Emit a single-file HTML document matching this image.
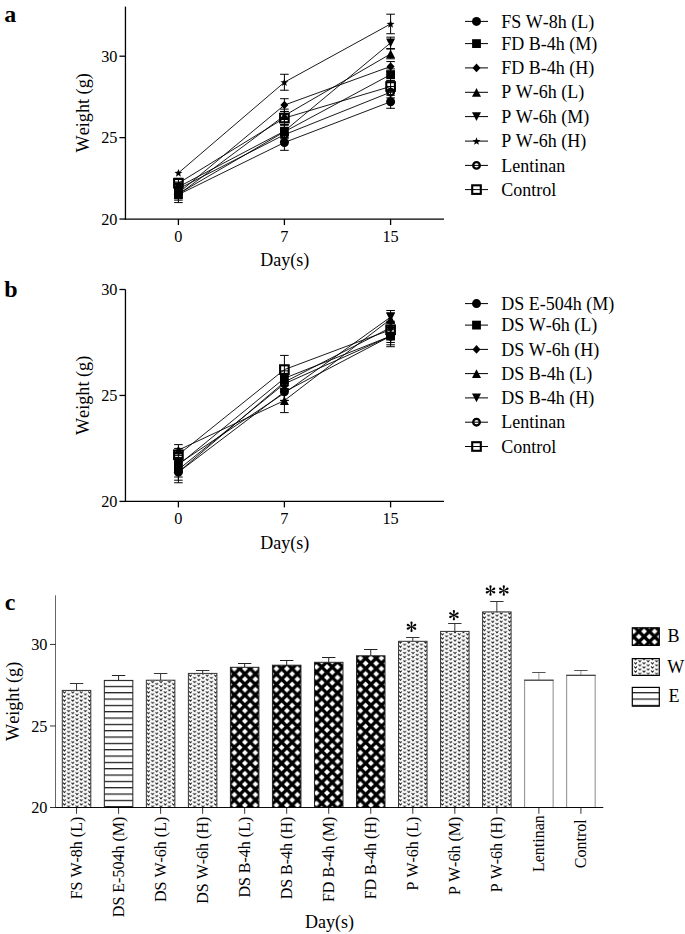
<!DOCTYPE html>
<html><head><meta charset="utf-8"><style>
html,body{margin:0;padding:0;background:#fff;}
svg{display:block;}
text{font-family:"Liberation Serif", serif;fill:#000;font-kerning:none;}
</style></head><body>
<svg width="685" height="934" viewBox="0 0 685 934">
<rect width="685" height="934" fill="#fff"/>
<defs>
<pattern id="pB" patternUnits="userSpaceOnUse" x="3.4" y="7.2" width="10.5" height="10.5">
<rect width="10.5" height="10.5" fill="#000"/>
<path d="M0 -2.9L2.9 0L0 2.9L-2.9 0Z M10.5 -2.9L13.4 0L10.5 2.9L7.6 0Z M0 7.6L2.9 10.5L0 13.4L-2.9 10.5Z M10.5 7.6L13.4 10.5L10.5 13.4L7.6 10.5Z M5.25 2.35L8.15 5.25L5.25 8.15L2.35 5.25Z" fill="#fff"/>
</pattern>
<pattern id="pB7" patternUnits="userSpaceOnUse" x="1.5" y="5.5" width="10.5" height="10.5">
<rect width="10.5" height="10.5" fill="#000"/>
<path d="M0 -2.9L2.9 0L0 2.9L-2.9 0Z M10.5 -2.9L13.4 0L10.5 2.9L7.6 0Z M0 7.6L2.9 10.5L0 13.4L-2.9 10.5Z M10.5 7.6L13.4 10.5L10.5 13.4L7.6 10.5Z M5.25 2.35L8.15 5.25L5.25 8.15L2.35 5.25Z" fill="#fff"/>
</pattern>
<pattern id="pBL" patternUnits="userSpaceOnUse" x="3.6" y="1.4" width="10.5" height="10.5">
<rect width="10.5" height="10.5" fill="#000"/>
<path d="M0 -2.9L2.9 0L0 2.9L-2.9 0Z M10.5 -2.9L13.4 0L10.5 2.9L7.6 0Z M0 7.6L2.9 10.5L0 13.4L-2.9 10.5Z M10.5 7.6L13.4 10.5L10.5 13.4L7.6 10.5Z M5.25 2.35L8.15 5.25L5.25 8.15L2.35 5.25Z" fill="#fff"/>
</pattern>
<pattern id="pW" patternUnits="userSpaceOnUse" x="1.4" y="1.3" width="8.4" height="4.15">
<rect width="8.4" height="4.15" fill="#fff"/>
<path d="M-1.4 -0.9L0 0.7L1.4 -0.9 M7.0 -0.9L8.4 0.7L9.8 -0.9 M-1.4 3.25L0 4.85L1.4 3.25 M7.0 3.25L8.4 4.85L9.8 3.25 M2.8 1.17L4.2 2.77L5.6 1.17" stroke="#111" stroke-width="0.9" fill="none"/>
</pattern>
<pattern id="pE" patternUnits="userSpaceOnUse" x="0" y="1.85" width="10" height="6.333">
<rect width="10" height="6.333" fill="#fff"/>
<rect y="0" width="10" height="1.2" fill="#111"/>
</pattern>
</defs>
<line x1="125.45" y1="6.6" x2="125.45" y2="219.69" stroke="#000" stroke-width="1.3"/>
<line x1="124.8" y1="219.04" x2="444" y2="219.04" stroke="#000" stroke-width="1.3"/>
<line x1="119.45" y1="219.04" x2="125.45" y2="219.04" stroke="#000" stroke-width="1.3"/>
<text x="117.45" y="224.64" text-anchor="end" font-size="16.3" font-weight="normal" >20</text>
<line x1="119.45" y1="137.62" x2="125.45" y2="137.62" stroke="#000" stroke-width="1.3"/>
<text x="117.45" y="143.22" text-anchor="end" font-size="16.3" font-weight="normal" >25</text>
<line x1="119.45" y1="56.2" x2="125.45" y2="56.2" stroke="#000" stroke-width="1.3"/>
<text x="117.45" y="61.8" text-anchor="end" font-size="16.3" font-weight="normal" >30</text>
<line x1="178.4" y1="219.04" x2="178.4" y2="225.04" stroke="#000" stroke-width="1.3"/>
<text x="178.4" y="241.84" text-anchor="middle" font-size="16.3" font-weight="normal" >0</text>
<line x1="284.4" y1="219.04" x2="284.4" y2="225.04" stroke="#000" stroke-width="1.3"/>
<text x="284.4" y="241.84" text-anchor="middle" font-size="16.3" font-weight="normal" >7</text>
<line x1="390.6" y1="219.04" x2="390.6" y2="225.04" stroke="#000" stroke-width="1.3"/>
<text x="390.6" y="241.84" text-anchor="middle" font-size="16.3" font-weight="normal" >15</text>
<text x="284.73" y="266.14" text-anchor="middle" font-size="18" font-weight="normal" >Day(s)</text>
<text transform="translate(88.9 112.82) rotate(-90)" text-anchor="middle" font-size="18.2">Weight (g)</text>
<text x="4.3" y="21.5" text-anchor="start" font-size="24" font-weight="bold" >a</text>
<polyline points="178.4,194.61 284.4,142.51 390.6,101.8" fill="none" stroke="#000" stroke-width="0.9"/>
<polyline points="178.4,193.8 284.4,131.76 390.6,74.6" fill="none" stroke="#000" stroke-width="0.9"/>
<polyline points="178.4,192.99 284.4,105.05 390.6,66.46" fill="none" stroke="#000" stroke-width="0.9"/>
<polyline points="178.4,194.61 284.4,115.64 390.6,53.92" fill="none" stroke="#000" stroke-width="0.9"/>
<polyline points="178.4,186.96 284.4,131.11 390.6,42.85" fill="none" stroke="#000" stroke-width="0.9"/>
<polyline points="178.4,172.96 284.4,82.25 390.6,23.96" fill="none" stroke="#000" stroke-width="0.9"/>
<polyline points="178.4,188.91 284.4,134.69 390.6,92.19" fill="none" stroke="#000" stroke-width="0.9"/>
<polyline points="178.4,183.22 284.4,118.08 390.6,86.49" fill="none" stroke="#000" stroke-width="0.9"/>
<path d="M178.4 189.08V200.15M174.1 189.08H182.7M174.1 200.15H182.7" stroke="#000" stroke-width="1" fill="none"/>
<path d="M284.4 134.69V150.32M280.1 134.69H288.7M280.1 150.32H288.7" stroke="#000" stroke-width="1" fill="none"/>
<path d="M390.6 95.28V108.31M386.3 95.28H394.9M386.3 108.31H394.9" stroke="#000" stroke-width="1" fill="none"/>
<path d="M178.4 188.91V198.68M174.1 188.91H182.7M174.1 198.68H182.7" stroke="#000" stroke-width="1" fill="none"/>
<path d="M284.4 125.24V138.27M280.1 125.24H288.7M280.1 138.27H288.7" stroke="#000" stroke-width="1" fill="none"/>
<path d="M390.6 68.9V80.3M386.3 68.9H394.9M386.3 80.3H394.9" stroke="#000" stroke-width="1" fill="none"/>
<path d="M178.4 188.1V197.87M174.1 188.1H182.7M174.1 197.87H182.7" stroke="#000" stroke-width="1" fill="none"/>
<path d="M284.4 98.7V111.4M280.1 98.7H288.7M280.1 111.4H288.7" stroke="#000" stroke-width="1" fill="none"/>
<path d="M390.6 61.57V71.34M386.3 61.57H394.9M386.3 71.34H394.9" stroke="#000" stroke-width="1" fill="none"/>
<path d="M178.4 186.63V202.59M174.1 186.63H182.7M174.1 202.59H182.7" stroke="#000" stroke-width="1" fill="none"/>
<path d="M284.4 109.12V122.15M280.1 109.12H288.7M280.1 122.15H288.7" stroke="#000" stroke-width="1" fill="none"/>
<path d="M390.6 49.04V58.81M386.3 49.04H394.9M386.3 58.81H394.9" stroke="#000" stroke-width="1" fill="none"/>
<path d="M178.4 182.08V191.85M174.1 182.08H182.7M174.1 191.85H182.7" stroke="#000" stroke-width="1" fill="none"/>
<path d="M284.4 124.59V137.62M280.1 124.59H288.7M280.1 137.62H288.7" stroke="#000" stroke-width="1" fill="none"/>
<path d="M390.6 37.15V48.55M386.3 37.15H394.9M386.3 48.55H394.9" stroke="#000" stroke-width="1" fill="none"/>
<path d="M284.4 74.28V90.23M280.1 74.28H288.7M280.1 90.23H288.7" stroke="#000" stroke-width="1" fill="none"/>
<path d="M390.6 14.19V33.73M386.3 14.19H394.9M386.3 33.73H394.9" stroke="#000" stroke-width="1" fill="none"/>
<path d="M178.4 184.03V193.8M174.1 184.03H182.7M174.1 193.8H182.7" stroke="#000" stroke-width="1" fill="none"/>
<path d="M284.4 128.18V141.2M280.1 128.18H288.7M280.1 141.2H288.7" stroke="#000" stroke-width="1" fill="none"/>
<path d="M390.6 86.49V97.89M386.3 86.49H394.9M386.3 97.89H394.9" stroke="#000" stroke-width="1" fill="none"/>
<path d="M178.4 178.33V188.1M174.1 178.33H182.7M174.1 188.1H182.7" stroke="#000" stroke-width="1" fill="none"/>
<path d="M284.4 111.57V124.59M280.1 111.57H288.7M280.1 124.59H288.7" stroke="#000" stroke-width="1" fill="none"/>
<path d="M390.6 80.79V92.19M386.3 80.79H394.9M386.3 92.19H394.9" stroke="#000" stroke-width="1" fill="none"/>
<circle cx="178.4" cy="194.61" r="4.5" fill="#000"/>
<circle cx="284.4" cy="142.51" r="4.5" fill="#000"/>
<circle cx="390.6" cy="101.8" r="4.5" fill="#000"/>
<rect x="174" y="189.4" width="8.8" height="8.8" fill="#000"/>
<rect x="280" y="127.36" width="8.8" height="8.8" fill="#000"/>
<rect x="386.2" y="70.2" width="8.8" height="8.8" fill="#000"/>
<path d="M178.4 188.69L182.4 192.99L178.4 197.29L174.4 192.99Z" fill="#000"/>
<path d="M284.4 100.75L288.4 105.05L284.4 109.35L280.4 105.05Z" fill="#000"/>
<path d="M390.6 62.16L394.6 66.46L390.6 70.76L386.6 66.46Z" fill="#000"/>
<path d="M178.4 190.21L182.9 199.01L173.9 199.01Z" fill="#000"/>
<path d="M284.4 111.24L288.9 120.04L279.9 120.04Z" fill="#000"/>
<path d="M390.6 49.52L395.1 58.32L386.1 58.32Z" fill="#000"/>
<path d="M178.4 191.36L182.9 182.56L173.9 182.56Z" fill="#000"/>
<path d="M284.4 135.51L288.9 126.71L279.9 126.71Z" fill="#000"/>
<path d="M390.6 47.25L395.1 38.45L386.1 38.45Z" fill="#000"/>
<path d="M178.4 169.06L179.43 171.84L182.39 171.96L180.06 173.8L180.87 176.65L178.4 175.01L175.93 176.65L176.74 173.8L174.41 171.96L177.37 171.84Z" fill="#000"/>
<path d="M284.4 78.35L285.43 81.14L288.39 81.26L286.06 83.1L286.87 85.95L284.4 84.3L281.93 85.95L282.74 83.1L280.41 81.26L283.37 81.14Z" fill="#000"/>
<path d="M390.6 20.06L391.63 22.84L394.59 22.96L392.26 24.8L393.07 27.66L390.6 26.01L388.13 27.66L388.94 24.8L386.61 22.96L389.57 22.84Z" fill="#000"/>
<circle cx="178.4" cy="188.91" r="3.3" fill="none" stroke="#000" stroke-width="2.3"/>
<circle cx="284.4" cy="134.69" r="3.3" fill="none" stroke="#000" stroke-width="2.3"/>
<circle cx="390.6" cy="92.19" r="3.3" fill="none" stroke="#000" stroke-width="2.3"/>
<rect x="174.1" y="178.92" width="8.6" height="8.6" fill="none" stroke="#000" stroke-width="2.1"/>
<rect x="280.1" y="113.78" width="8.6" height="8.6" fill="none" stroke="#000" stroke-width="2.1"/>
<rect x="386.3" y="82.19" width="8.6" height="8.6" fill="none" stroke="#000" stroke-width="2.1"/>
<line x1="465" y1="21.4" x2="488" y2="21.4" stroke="#000" stroke-width="1"/>
<circle cx="476.5" cy="21.4" r="4.5" fill="#000"/>
<text x="501.2" y="27.5" text-anchor="start" font-size="18" font-weight="normal" >FS W-8h (L)</text>
<line x1="465" y1="43.6" x2="488" y2="43.6" stroke="#000" stroke-width="1"/>
<rect x="472.1" y="39.2" width="8.8" height="8.8" fill="#000"/>
<text x="501.2" y="49.7" text-anchor="start" font-size="18" font-weight="normal" >FD B-4h (M)</text>
<line x1="465" y1="67.9" x2="488" y2="67.9" stroke="#000" stroke-width="1"/>
<path d="M476.5 63.6L480.5 67.9L476.5 72.2L472.5 67.9Z" fill="#000"/>
<text x="501.2" y="74" text-anchor="start" font-size="18" font-weight="normal" >FD B-4h (H)</text>
<line x1="465" y1="92.3" x2="488" y2="92.3" stroke="#000" stroke-width="1"/>
<path d="M476.5 87.9L481 96.7L472 96.7Z" fill="#000"/>
<text x="501.2" y="98.4" text-anchor="start" font-size="18" font-weight="normal" >P W-6h (L)</text>
<line x1="465" y1="116.6" x2="488" y2="116.6" stroke="#000" stroke-width="1"/>
<path d="M476.5 121L481 112.2L472 112.2Z" fill="#000"/>
<text x="501.2" y="122.7" text-anchor="start" font-size="18" font-weight="normal" >P W-6h (M)</text>
<line x1="465" y1="141.1" x2="488" y2="141.1" stroke="#000" stroke-width="1"/>
<path d="M476.5 137.2L477.53 139.98L480.49 140.1L478.16 141.94L478.97 144.8L476.5 143.15L474.03 144.8L474.84 141.94L472.51 140.1L475.47 139.98Z" fill="#000"/>
<text x="501.2" y="147.2" text-anchor="start" font-size="18" font-weight="normal" >P W-6h (H)</text>
<line x1="465" y1="165.4" x2="488" y2="165.4" stroke="#000" stroke-width="1"/>
<circle cx="476.5" cy="165.4" r="3.3" fill="none" stroke="#000" stroke-width="2.3"/>
<text x="501.2" y="171.5" text-anchor="start" font-size="18" font-weight="normal" >Lentinan</text>
<line x1="465" y1="189.6" x2="488" y2="189.6" stroke="#000" stroke-width="1"/>
<rect x="472.2" y="185.3" width="8.6" height="8.6" fill="none" stroke="#000" stroke-width="2.1"/>
<text x="501.2" y="195.7" text-anchor="start" font-size="18" font-weight="normal" >Control</text>
<line x1="125.45" y1="289.5" x2="125.45" y2="502.05" stroke="#000" stroke-width="1.3"/>
<line x1="124.8" y1="501.4" x2="444" y2="501.4" stroke="#000" stroke-width="1.3"/>
<line x1="119.45" y1="501.4" x2="125.45" y2="501.4" stroke="#000" stroke-width="1.3"/>
<text x="117.45" y="507" text-anchor="end" font-size="16.3" font-weight="normal" >20</text>
<line x1="119.45" y1="395.45" x2="125.45" y2="395.45" stroke="#000" stroke-width="1.3"/>
<text x="117.45" y="401.05" text-anchor="end" font-size="16.3" font-weight="normal" >25</text>
<line x1="119.45" y1="289.5" x2="125.45" y2="289.5" stroke="#000" stroke-width="1.3"/>
<text x="117.45" y="295.1" text-anchor="end" font-size="16.3" font-weight="normal" >30</text>
<line x1="178.4" y1="501.4" x2="178.4" y2="507.4" stroke="#000" stroke-width="1.3"/>
<text x="178.4" y="524.2" text-anchor="middle" font-size="16.3" font-weight="normal" >0</text>
<line x1="284.4" y1="501.4" x2="284.4" y2="507.4" stroke="#000" stroke-width="1.3"/>
<text x="284.4" y="524.2" text-anchor="middle" font-size="16.3" font-weight="normal" >7</text>
<line x1="390.6" y1="501.4" x2="390.6" y2="507.4" stroke="#000" stroke-width="1.3"/>
<text x="390.6" y="524.2" text-anchor="middle" font-size="16.3" font-weight="normal" >15</text>
<text x="284.73" y="548.5" text-anchor="middle" font-size="18" font-weight="normal" >Day(s)</text>
<text transform="translate(88.9 395.45) rotate(-90)" text-anchor="middle" font-size="18.2">Weight (g)</text>
<text x="4.3" y="296.7" text-anchor="start" font-size="24" font-weight="bold" >b</text>
<polyline points="178.4,472.16 284.4,391.85 390.6,336.12" fill="none" stroke="#000" stroke-width="0.9"/>
<polyline points="178.4,464.95 284.4,378.29 390.6,336.12" fill="none" stroke="#000" stroke-width="0.9"/>
<polyline points="178.4,472.16 284.4,382.1 390.6,327.64" fill="none" stroke="#000" stroke-width="0.9"/>
<polyline points="178.4,450.12 284.4,400.54 390.6,319.17" fill="none" stroke="#000" stroke-width="0.9"/>
<polyline points="178.4,463.89 284.4,393.12 390.6,317.05" fill="none" stroke="#000" stroke-width="0.9"/>
<polyline points="178.4,469.61 284.4,383.8 390.6,336.12" fill="none" stroke="#000" stroke-width="0.9"/>
<polyline points="178.4,454.78 284.4,369.6 390.6,329.76" fill="none" stroke="#000" stroke-width="0.9"/>
<path d="M178.4 461.56V482.75M174.1 461.56H182.7M174.1 482.75H182.7" stroke="#000" stroke-width="1" fill="none"/>
<path d="M284.4 383.37V400.32M280.1 383.37H288.7M280.1 400.32H288.7" stroke="#000" stroke-width="1" fill="none"/>
<path d="M390.6 325.52V346.71M386.3 325.52H394.9M386.3 346.71H394.9" stroke="#000" stroke-width="1" fill="none"/>
<path d="M178.4 458.6V471.31M174.1 458.6H182.7M174.1 471.31H182.7" stroke="#000" stroke-width="1" fill="none"/>
<path d="M284.4 370.87V385.7M280.1 370.87H288.7M280.1 385.7H288.7" stroke="#000" stroke-width="1" fill="none"/>
<path d="M390.6 329.76V342.47M386.3 329.76H394.9M386.3 342.47H394.9" stroke="#000" stroke-width="1" fill="none"/>
<path d="M178.4 464.11V480.21M174.1 464.11H182.7M174.1 480.21H182.7" stroke="#000" stroke-width="1" fill="none"/>
<path d="M284.4 374.68V389.52M280.1 374.68H288.7M280.1 389.52H288.7" stroke="#000" stroke-width="1" fill="none"/>
<path d="M390.6 321.28V334M386.3 321.28H394.9M386.3 334H394.9" stroke="#000" stroke-width="1" fill="none"/>
<path d="M178.4 444.61V455.63M174.1 444.61H182.7M174.1 455.63H182.7" stroke="#000" stroke-width="1" fill="none"/>
<path d="M284.4 388.46V412.61M280.1 388.46H288.7M280.1 412.61H288.7" stroke="#000" stroke-width="1" fill="none"/>
<path d="M390.6 312.81V325.52M386.3 312.81H394.9M386.3 325.52H394.9" stroke="#000" stroke-width="1" fill="none"/>
<path d="M178.4 457.54V470.25M174.1 457.54H182.7M174.1 470.25H182.7" stroke="#000" stroke-width="1" fill="none"/>
<path d="M284.4 385.7V400.54M280.1 385.7H288.7M280.1 400.54H288.7" stroke="#000" stroke-width="1" fill="none"/>
<path d="M390.6 310.48V323.62M386.3 310.48H394.9M386.3 323.62H394.9" stroke="#000" stroke-width="1" fill="none"/>
<path d="M178.4 462.2V477.03M174.1 462.2H182.7M174.1 477.03H182.7" stroke="#000" stroke-width="1" fill="none"/>
<path d="M284.4 376.38V391.21M280.1 376.38H288.7M280.1 391.21H288.7" stroke="#000" stroke-width="1" fill="none"/>
<path d="M390.6 327.43V344.81M386.3 327.43H394.9M386.3 344.81H394.9" stroke="#000" stroke-width="1" fill="none"/>
<path d="M178.4 448.42V461.14M174.1 448.42H182.7M174.1 461.14H182.7" stroke="#000" stroke-width="1" fill="none"/>
<path d="M284.4 355.4V383.8M280.1 355.4H288.7M280.1 383.8H288.7" stroke="#000" stroke-width="1" fill="none"/>
<path d="M390.6 322.34V337.18M386.3 322.34H394.9M386.3 337.18H394.9" stroke="#000" stroke-width="1" fill="none"/>
<circle cx="178.4" cy="472.16" r="4.5" fill="#000"/>
<circle cx="284.4" cy="391.85" r="4.5" fill="#000"/>
<circle cx="390.6" cy="336.12" r="4.5" fill="#000"/>
<rect x="174" y="460.55" width="8.8" height="8.8" fill="#000"/>
<rect x="280" y="373.89" width="8.8" height="8.8" fill="#000"/>
<rect x="386.2" y="331.72" width="8.8" height="8.8" fill="#000"/>
<path d="M178.4 467.86L182.4 472.16L178.4 476.46L174.4 472.16Z" fill="#000"/>
<path d="M284.4 377.8L288.4 382.1L284.4 386.4L280.4 382.1Z" fill="#000"/>
<path d="M390.6 323.34L394.6 327.64L390.6 331.94L386.6 327.64Z" fill="#000"/>
<path d="M178.4 445.72L182.9 454.52L173.9 454.52Z" fill="#000"/>
<path d="M284.4 396.14L288.9 404.94L279.9 404.94Z" fill="#000"/>
<path d="M390.6 314.77L395.1 323.57L386.1 323.57Z" fill="#000"/>
<path d="M178.4 468.29L182.9 459.49L173.9 459.49Z" fill="#000"/>
<path d="M284.4 397.52L288.9 388.72L279.9 388.72Z" fill="#000"/>
<path d="M390.6 321.45L395.1 312.65L386.1 312.65Z" fill="#000"/>
<circle cx="178.4" cy="469.61" r="3.3" fill="none" stroke="#000" stroke-width="2.3"/>
<circle cx="284.4" cy="383.8" r="3.3" fill="none" stroke="#000" stroke-width="2.3"/>
<circle cx="390.6" cy="336.12" r="3.3" fill="none" stroke="#000" stroke-width="2.3"/>
<rect x="174.1" y="450.48" width="8.6" height="8.6" fill="none" stroke="#000" stroke-width="2.1"/>
<rect x="280.1" y="365.3" width="8.6" height="8.6" fill="none" stroke="#000" stroke-width="2.1"/>
<rect x="386.3" y="325.46" width="8.6" height="8.6" fill="none" stroke="#000" stroke-width="2.1"/>
<line x1="465" y1="303.6" x2="488" y2="303.6" stroke="#000" stroke-width="1"/>
<circle cx="476.5" cy="303.6" r="4.5" fill="#000"/>
<text x="501.2" y="309.7" text-anchor="start" font-size="18" font-weight="normal" >DS E-504h (M)</text>
<line x1="465" y1="325.1" x2="488" y2="325.1" stroke="#000" stroke-width="1"/>
<rect x="472.1" y="320.7" width="8.8" height="8.8" fill="#000"/>
<text x="501.2" y="331.2" text-anchor="start" font-size="18" font-weight="normal" >DS W-6h (L)</text>
<line x1="465" y1="349.4" x2="488" y2="349.4" stroke="#000" stroke-width="1"/>
<path d="M476.5 345.1L480.5 349.4L476.5 353.7L472.5 349.4Z" fill="#000"/>
<text x="501.2" y="355.5" text-anchor="start" font-size="18" font-weight="normal" >DS W-6h (H)</text>
<line x1="465" y1="373.6" x2="488" y2="373.6" stroke="#000" stroke-width="1"/>
<path d="M476.5 369.2L481 378L472 378Z" fill="#000"/>
<text x="501.2" y="379.7" text-anchor="start" font-size="18" font-weight="normal" >DS B-4h (L)</text>
<line x1="465" y1="397.9" x2="488" y2="397.9" stroke="#000" stroke-width="1"/>
<path d="M476.5 402.3L481 393.5L472 393.5Z" fill="#000"/>
<text x="501.2" y="404" text-anchor="start" font-size="18" font-weight="normal" >DS B-4h (H)</text>
<line x1="465" y1="422.2" x2="488" y2="422.2" stroke="#000" stroke-width="1"/>
<circle cx="476.5" cy="422.2" r="3.3" fill="none" stroke="#000" stroke-width="2.3"/>
<text x="501.2" y="428.3" text-anchor="start" font-size="18" font-weight="normal" >Lentinan</text>
<line x1="465" y1="446.5" x2="488" y2="446.5" stroke="#000" stroke-width="1"/>
<rect x="472.2" y="442.2" width="8.6" height="8.6" fill="none" stroke="#000" stroke-width="2.1"/>
<text x="501.2" y="452.6" text-anchor="start" font-size="18" font-weight="normal" >Control</text>
<path d="M76.55 690.4V683.5" stroke="#333" stroke-width="1" fill="none"/>
<path d="M69.85 683.5H83.25" stroke="#333" stroke-width="1" fill="none"/>
<rect x="62.3" y="690.4" width="28.5" height="117.1" fill="url(#pW)" stroke="#333" stroke-width="1"/>
<line x1="76.55" y1="807.5" x2="76.55" y2="813.8" stroke="#000" stroke-width="0.8"/>
<text transform="translate(81.95 816.7) rotate(-90)" text-anchor="end" font-size="16">FS W-8h (L)</text>
<path d="M118.58 680.4V675.5" stroke="#222" stroke-width="1" fill="none"/>
<path d="M111.88 675.5H125.28" stroke="#222" stroke-width="1" fill="none"/>
<rect x="104.33" y="680.4" width="28.5" height="127.1" fill="url(#pE)" stroke="#222" stroke-width="1"/>
<line x1="118.58" y1="807.5" x2="118.58" y2="813.8" stroke="#000" stroke-width="0.8"/>
<text transform="translate(123.98 816.7) rotate(-90)" text-anchor="end" font-size="16">DS E-504h (M)</text>
<path d="M160.61 680.2V673.5" stroke="#333" stroke-width="1" fill="none"/>
<path d="M153.91 673.5H167.31" stroke="#333" stroke-width="1" fill="none"/>
<rect x="146.36" y="680.2" width="28.5" height="127.3" fill="url(#pW)" stroke="#333" stroke-width="1"/>
<line x1="160.61" y1="807.5" x2="160.61" y2="813.8" stroke="#000" stroke-width="0.8"/>
<text transform="translate(166.01 816.7) rotate(-90)" text-anchor="end" font-size="16">DS W-6h (L)</text>
<path d="M202.64 673.4V670.5" stroke="#333" stroke-width="1" fill="none"/>
<path d="M195.94 670.5H209.34" stroke="#333" stroke-width="1" fill="none"/>
<rect x="188.39" y="673.4" width="28.5" height="134.1" fill="url(#pW)" stroke="#333" stroke-width="1"/>
<line x1="202.64" y1="807.5" x2="202.64" y2="813.8" stroke="#000" stroke-width="0.8"/>
<text transform="translate(208.04 816.7) rotate(-90)" text-anchor="end" font-size="16">DS W-6h (H)</text>
<path d="M244.67 667.3V663.5" stroke="#222" stroke-width="1" fill="none"/>
<path d="M237.97 663.5H251.37" stroke="#222" stroke-width="1" fill="none"/>
<rect x="230.42" y="667.3" width="28.5" height="140.2" fill="url(#pB)" stroke="#222" stroke-width="1"/>
<line x1="244.67" y1="807.5" x2="244.67" y2="813.8" stroke="#000" stroke-width="0.8"/>
<text transform="translate(250.07 816.7) rotate(-90)" text-anchor="end" font-size="16">DS B-4h (L)</text>
<path d="M286.7 665.2V660.5" stroke="#222" stroke-width="1" fill="none"/>
<path d="M280 660.5H293.4" stroke="#222" stroke-width="1" fill="none"/>
<rect x="272.45" y="665.2" width="28.5" height="142.3" fill="url(#pB)" stroke="#222" stroke-width="1"/>
<line x1="286.7" y1="807.5" x2="286.7" y2="813.8" stroke="#000" stroke-width="0.8"/>
<text transform="translate(292.1 816.7) rotate(-90)" text-anchor="end" font-size="16">DS B-4h (H)</text>
<path d="M328.73 662.3V657.5" stroke="#222" stroke-width="1" fill="none"/>
<path d="M322.03 657.5H335.43" stroke="#222" stroke-width="1" fill="none"/>
<rect x="314.48" y="662.3" width="28.5" height="145.2" fill="url(#pB7)" stroke="#222" stroke-width="1"/>
<line x1="328.73" y1="807.5" x2="328.73" y2="813.8" stroke="#000" stroke-width="0.8"/>
<text transform="translate(334.13 816.7) rotate(-90)" text-anchor="end" font-size="16">FD B-4h (M)</text>
<path d="M370.76 655.8V649.5" stroke="#222" stroke-width="1" fill="none"/>
<path d="M364.06 649.5H377.46" stroke="#222" stroke-width="1" fill="none"/>
<rect x="356.51" y="655.8" width="28.5" height="151.7" fill="url(#pB)" stroke="#222" stroke-width="1"/>
<line x1="370.76" y1="807.5" x2="370.76" y2="813.8" stroke="#000" stroke-width="0.8"/>
<text transform="translate(376.16 816.7) rotate(-90)" text-anchor="end" font-size="16">FD B-4h (H)</text>
<path d="M412.79 641.3V637.5" stroke="#333" stroke-width="1" fill="none"/>
<path d="M406.09 637.5H419.49" stroke="#333" stroke-width="1" fill="none"/>
<rect x="398.54" y="641.3" width="28.5" height="166.2" fill="url(#pW)" stroke="#333" stroke-width="1"/>
<line x1="412.79" y1="807.5" x2="412.79" y2="813.8" stroke="#000" stroke-width="0.8"/>
<text transform="translate(418.19 816.7) rotate(-90)" text-anchor="end" font-size="16">P W-6h (L)</text>
<path d="M454.82 631.4V623.5" stroke="#333" stroke-width="1" fill="none"/>
<path d="M448.12 623.5H461.52" stroke="#333" stroke-width="1" fill="none"/>
<rect x="440.57" y="631.4" width="28.5" height="176.1" fill="url(#pW)" stroke="#333" stroke-width="1"/>
<line x1="454.82" y1="807.5" x2="454.82" y2="813.8" stroke="#000" stroke-width="0.8"/>
<text transform="translate(460.22 816.7) rotate(-90)" text-anchor="end" font-size="16">P W-6h (M)</text>
<path d="M496.85 611.9V601.5" stroke="#333" stroke-width="1" fill="none"/>
<path d="M490.15 601.5H503.55" stroke="#333" stroke-width="1" fill="none"/>
<rect x="482.6" y="611.9" width="28.5" height="195.6" fill="url(#pW)" stroke="#333" stroke-width="1"/>
<line x1="496.85" y1="807.5" x2="496.85" y2="813.8" stroke="#000" stroke-width="0.8"/>
<text transform="translate(502.25 816.7) rotate(-90)" text-anchor="end" font-size="16">P W-6h (H)</text>
<path d="M538.88 680.2V672.5" stroke="#999" stroke-width="1" fill="none"/>
<path d="M532.18 672.5H545.58" stroke="#555" stroke-width="1" fill="none"/>
<rect x="524.63" y="680.2" width="28.5" height="127.3" fill="#fff" stroke="#8a8a8a" stroke-width="1"/>
<line x1="524.13" y1="680.2" x2="553.63" y2="680.2" stroke="#333" stroke-width="1"/>
<line x1="538.88" y1="807.5" x2="538.88" y2="813.8" stroke="#000" stroke-width="0.8"/>
<text transform="translate(544.28 815.2) rotate(-90)" text-anchor="end" font-size="16">Lentinan</text>
<path d="M580.91 675.3V670.5" stroke="#999" stroke-width="1" fill="none"/>
<path d="M574.21 670.5H587.61" stroke="#555" stroke-width="1" fill="none"/>
<rect x="566.66" y="675.3" width="28.5" height="132.2" fill="#fff" stroke="#8a8a8a" stroke-width="1"/>
<line x1="566.16" y1="675.3" x2="595.66" y2="675.3" stroke="#333" stroke-width="1"/>
<line x1="580.91" y1="807.5" x2="580.91" y2="813.8" stroke="#000" stroke-width="0.8"/>
<text transform="translate(586.31 819.3) rotate(-90)" text-anchor="end" font-size="16">Control</text>
<line x1="55.5" y1="595.3" x2="55.5" y2="807.5" stroke="#000" stroke-width="0.6"/>
<line x1="55.2" y1="807.5" x2="603.3" y2="807.5" stroke="#000" stroke-width="0.95"/>
<line x1="50" y1="807.5" x2="55.5" y2="807.5" stroke="#000" stroke-width="0.8"/>
<text x="47.5" y="813.1" text-anchor="end" font-size="16.3" font-weight="normal" >20</text>
<line x1="50" y1="725.98" x2="55.5" y2="725.98" stroke="#000" stroke-width="0.8"/>
<text x="47.5" y="731.58" text-anchor="end" font-size="16.3" font-weight="normal" >25</text>
<line x1="50" y1="644.45" x2="55.5" y2="644.45" stroke="#000" stroke-width="0.8"/>
<text x="47.5" y="650.05" text-anchor="end" font-size="16.3" font-weight="normal" >30</text>
<text transform="translate(18.9 701.4) rotate(-90)" text-anchor="middle" font-size="18.2">Weight (g)</text>
<text x="329.4" y="928.4" text-anchor="middle" font-size="18" font-weight="normal" >Day(s)</text>
<text x="4.8" y="609.9" text-anchor="start" font-size="24" font-weight="bold" >c</text>
<path d="M411.7 626.8L412.59 622.7L410.41 622.7L411.3 626.8ZM412.65 622.7A1.15 1.15 0 1 0 410.35 622.7A1.15 1.15 0 1 0 412.65 622.7ZM411.3 626.8L410.41 630.9L412.59 630.9L411.7 626.8ZM412.65 630.9A1.15 1.15 0 1 0 410.35 630.9A1.15 1.15 0 1 0 412.65 630.9ZM411.59 626.98L415.65 625.91L414.66 623.97L411.41 626.62ZM416.3 624.94A1.15 1.15 0 1 0 414 624.94A1.15 1.15 0 1 0 416.3 624.94ZM411.59 626.62L408.34 623.97L407.35 625.91L411.41 626.98ZM409 624.94A1.15 1.15 0 1 0 406.7 624.94A1.15 1.15 0 1 0 409 624.94ZM411.41 626.62L407.35 627.69L408.34 629.63L411.59 626.98ZM409 628.66A1.15 1.15 0 1 0 406.7 628.66A1.15 1.15 0 1 0 409 628.66ZM411.41 626.98L414.66 629.63L415.65 627.69L411.59 626.62ZM416.3 628.66A1.15 1.15 0 1 0 414 628.66A1.15 1.15 0 1 0 416.3 628.66Z" fill="#000"/>
<path d="M454.1 615.2L454.99 611.1L452.81 611.1L453.7 615.2ZM455.05 611.1A1.15 1.15 0 1 0 452.75 611.1A1.15 1.15 0 1 0 455.05 611.1ZM453.7 615.2L452.81 619.3L454.99 619.3L454.1 615.2ZM455.05 619.3A1.15 1.15 0 1 0 452.75 619.3A1.15 1.15 0 1 0 455.05 619.3ZM453.99 615.38L458.05 614.31L457.06 612.37L453.81 615.02ZM458.7 613.34A1.15 1.15 0 1 0 456.4 613.34A1.15 1.15 0 1 0 458.7 613.34ZM453.99 615.02L450.74 612.37L449.75 614.31L453.81 615.38ZM451.4 613.34A1.15 1.15 0 1 0 449.1 613.34A1.15 1.15 0 1 0 451.4 613.34ZM453.81 615.02L449.75 616.09L450.74 618.03L453.99 615.38ZM451.4 617.06A1.15 1.15 0 1 0 449.1 617.06A1.15 1.15 0 1 0 451.4 617.06ZM453.81 615.38L457.06 618.03L458.05 616.09L453.99 615.02ZM458.7 617.06A1.15 1.15 0 1 0 456.4 617.06A1.15 1.15 0 1 0 458.7 617.06Z" fill="#000"/>
<path d="M490.7 590.6L491.59 586.5L489.41 586.5L490.3 590.6ZM491.65 586.5A1.15 1.15 0 1 0 489.35 586.5A1.15 1.15 0 1 0 491.65 586.5ZM490.3 590.6L489.41 594.7L491.59 594.7L490.7 590.6ZM491.65 594.7A1.15 1.15 0 1 0 489.35 594.7A1.15 1.15 0 1 0 491.65 594.7ZM490.59 590.78L494.65 589.71L493.66 587.77L490.41 590.42ZM495.3 588.74A1.15 1.15 0 1 0 493 588.74A1.15 1.15 0 1 0 495.3 588.74ZM490.59 590.42L487.34 587.77L486.35 589.71L490.41 590.78ZM488 588.74A1.15 1.15 0 1 0 485.7 588.74A1.15 1.15 0 1 0 488 588.74ZM490.41 590.42L486.35 591.49L487.34 593.43L490.59 590.78ZM488 592.46A1.15 1.15 0 1 0 485.7 592.46A1.15 1.15 0 1 0 488 592.46ZM490.41 590.78L493.66 593.43L494.65 591.49L490.59 590.42ZM495.3 592.46A1.15 1.15 0 1 0 493 592.46A1.15 1.15 0 1 0 495.3 592.46Z" fill="#000"/>
<path d="M504 590.6L504.89 586.5L502.71 586.5L503.6 590.6ZM504.95 586.5A1.15 1.15 0 1 0 502.65 586.5A1.15 1.15 0 1 0 504.95 586.5ZM503.6 590.6L502.71 594.7L504.89 594.7L504 590.6ZM504.95 594.7A1.15 1.15 0 1 0 502.65 594.7A1.15 1.15 0 1 0 504.95 594.7ZM503.89 590.78L507.95 589.71L506.96 587.77L503.71 590.42ZM508.6 588.74A1.15 1.15 0 1 0 506.3 588.74A1.15 1.15 0 1 0 508.6 588.74ZM503.89 590.42L500.64 587.77L499.65 589.71L503.71 590.78ZM501.3 588.74A1.15 1.15 0 1 0 499 588.74A1.15 1.15 0 1 0 501.3 588.74ZM503.71 590.42L499.65 591.49L500.64 593.43L503.89 590.78ZM501.3 592.46A1.15 1.15 0 1 0 499 592.46A1.15 1.15 0 1 0 501.3 592.46ZM503.71 590.78L506.96 593.43L507.95 591.49L503.89 590.42ZM508.6 592.46A1.15 1.15 0 1 0 506.3 592.46A1.15 1.15 0 1 0 508.6 592.46Z" fill="#000"/>
<rect x="632.3" y="627.8" width="27" height="17.6" fill="url(#pBL)" stroke="#000" stroke-width="1.2"/>
<rect x="632.3" y="658.6" width="27" height="16.8" fill="url(#pW)" stroke="#000" stroke-width="1.2"/>
<rect x="632.3" y="687.4" width="27" height="18.8" fill="url(#pE)" stroke="#000" stroke-width="1.2"/>
<text x="667.5" y="641.8" text-anchor="start" font-size="18" font-weight="normal" >B</text>
<text x="667.3" y="672.8" text-anchor="start" font-size="18" font-weight="normal" >W</text>
<text x="668.5" y="702.3" text-anchor="start" font-size="18" font-weight="normal" >E</text>
</svg></body></html>
